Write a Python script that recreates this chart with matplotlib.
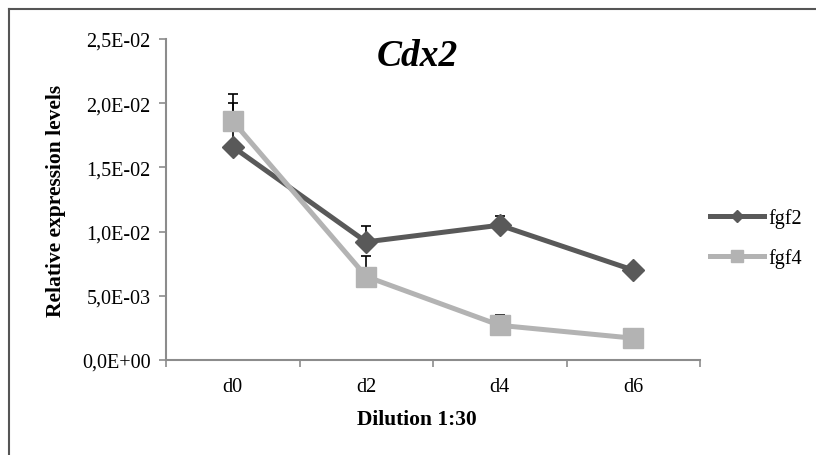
import matplotlib.pyplot as plt
from matplotlib.ticker import FuncFormatter
from matplotlib.lines import Line2D

plt.rcParams['font.family'] = ['Liberation Serif', 'DejaVu Serif']

# 数据
days = ["d0", "d2", "d4", "d6"]
fgf2 = [0.0166, 0.0092, 0.0105, 0.0070]
fgf2_err = [0.0034, 0.0012, 0.0007, 0.0002]
fgf4 = [0.0186, 0.0065, 0.0027, 0.0017]
fgf4_err = [0.0021, 0.0016, 0.0008, 0.0001]
y_ticks = [0.0, 0.005, 0.010, 0.015, 0.020, 0.025]

fig = plt.figure(figsize=(8.16, 4.56), dpi=100)
ax = fig.add_axes([0.2034, 0.2083, 0.6546, 0.7040])

x = list(range(len(days)))

# 误差线（只画上方）
ax.errorbar(x, fgf2, yerr=[[0] * 4, fgf2_err], fmt="none", ecolor="black",
            elinewidth=1.2, capsize=3.8, capthick=1.2, zorder=2)
ax.errorbar(x, fgf4, yerr=[[0] * 4, fgf4_err], fmt="none", ecolor="black",
            elinewidth=1.2, capsize=3.8, capthick=1.2, zorder=2)

# 折线
ax.plot(x, fgf2, color="#595959", linewidth=3.6, marker="D", markersize=11,
        zorder=3, label="fgf2")
ax.plot(x, fgf4, color="#b3b3b3", linewidth=3.6, marker="s", markersize=14,
        zorder=4, label="fgf4")

ax.set_xlim(-0.5, 3.5)
ax.set_ylim(0, 0.025)
ax.set_yticks(y_ticks)
ax.yaxis.set_major_formatter(FuncFormatter(
    lambda v, p: "{:.1E}".format(v).replace(".", ",")))
ax.set_xticks(x)
ax.set_xticklabels(days)
ax.set_xticks([-0.5, 0.5, 1.5, 2.5, 3.5], minor=True)

for s in ["top", "right"]:
    ax.spines[s].set_visible(False)
for s in ["left", "bottom"]:
    ax.spines[s].set_color("#8c8c8c")
    ax.spines[s].set_linewidth(1.5)

ax.tick_params(axis="y", length=5, width=1.2, color="#8c8c8c", labelsize=14.5,
               pad=6)
ax.tick_params(axis="x", which="major", length=0, labelsize=14.5, pad=12)
ax.tick_params(axis="x", which="minor", length=5, width=1.2, color="#8c8c8c")

ax.set_ylabel("Relative expression levels", fontsize=15.5, fontweight="bold")
ax.yaxis.set_label_coords(-0.188, 0.5)
ax.set_xlabel("Dilution 1:30", fontsize=15.5, fontweight="bold")
ax.xaxis.set_label_coords(0.47, -0.153)
ax.set_title("Cdx2", fontsize=27, fontweight="bold", style="italic",
             x=0.47, y=0.893)

# 图例
handles = [
    Line2D([], [], color="#595959", linewidth=3.6, marker="D", markersize=6),
    Line2D([], [], color="#b3b3b3", linewidth=3.6, marker="s", markersize=8),
]
fig.legend(handles, ["fgf2", "fgf4"], loc="center left",
           bbox_to_anchor=(0.848, 0.475), frameon=False, fontsize=14.5,
           handlelength=2.7, handletextpad=0.2, labelspacing=1.0)

# 外框
fig.add_artist(Line2D([0.011, 0.011], [0, 0.979], color="#555555",
                      linewidth=1.5, transform=fig.transFigure))
fig.add_artist(Line2D([0.011, 1.0], [0.979, 0.979], color="#555555",
                      linewidth=1.5, transform=fig.transFigure))

fig.savefig("out.png", dpi=100)
